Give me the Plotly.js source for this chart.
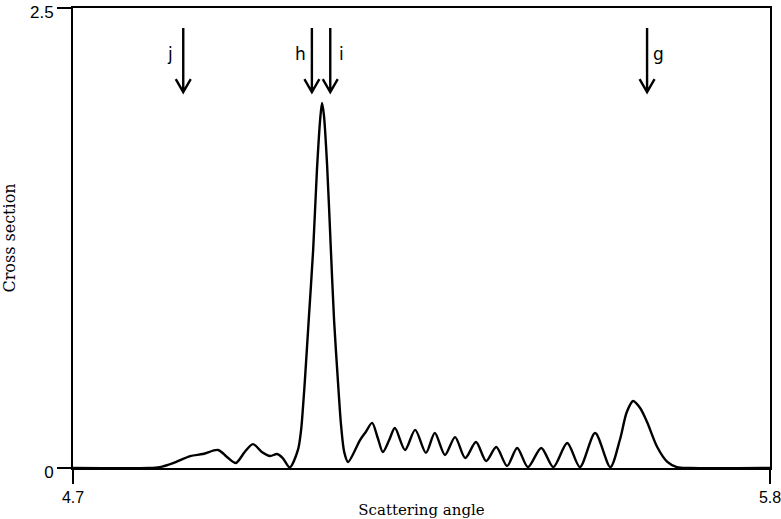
<!DOCTYPE html>
<html>
<head>
<meta charset="utf-8">
<script src="https://cdn.plot.ly/plotly-3.0.1.min.js"></script>
<style>
  html, body { margin: 0; padding: 0; background: #fff; }
  #chart { width: 781px; height: 519px; }
</style>
</head>
<body>
<div id="chart"></div>
<script>
// Scattering angle and differential cross section along the curve
const angle = [
  4.700, 4.820, 4.837, 4.858, 4.885, 4.905, 4.929, 4.943, 4.957, 4.971,
  4.984, 4.998, 5.011, 5.022, 5.031, 5.042, 5.055, 5.060, 5.063, 5.066,
  5.072, 5.079, 5.085, 5.090, 5.093, 5.096, 5.101, 5.107, 5.112, 5.118,
  5.123, 5.128, 5.134, 5.153, 5.162, 5.172, 5.181, 5.189, 5.199, 5.208,
  5.224, 5.240, 5.257, 5.271, 5.287, 5.303, 5.319, 5.336, 5.352, 5.368,
  5.385, 5.401, 5.418, 5.439, 5.458, 5.480, 5.500, 5.524, 5.548, 5.563,
  5.574, 5.584, 5.595, 5.606, 5.622, 5.638, 5.653, 5.674, 5.800
];
const crossSection = [
  0.000, 0.000, 0.005, 0.027, 0.065, 0.076, 0.098, 0.060, 0.027, 0.087,
  0.130, 0.087, 0.065, 0.076, 0.054, 0.003, 0.098, 0.207, 0.332, 0.478,
  0.804, 1.185, 1.620, 1.891, 1.984, 1.918, 1.647, 1.185, 0.804, 0.478,
  0.234, 0.087, 0.033, 0.152, 0.196, 0.245, 0.163, 0.087, 0.152, 0.217,
  0.098, 0.207, 0.082, 0.190, 0.071, 0.168, 0.054, 0.141, 0.038, 0.114,
  0.011, 0.109, 0.005, 0.109, 0.005, 0.136, 0.005, 0.190, 0.005, 0.152,
  0.304, 0.364, 0.326, 0.250, 0.114, 0.033, 0.005, 0.000, 0.000
];

// Marked angles with their labels
const markAngles = [4.874, 5.077, 5.106, 5.606];
const markLabels = ['j', 'h', 'i', 'g'];

const xTicks = [4.7, 5.8];
const yTicks = [0, 2.5];

// Arrow geometry (data units) and label offsets (px)
const arrowTop = 2.391, arrowTip = 2.043, wingHalf = 0.0118, wingRise = 0.07;
const labelShift = [-13, -11, 11, 11];

const shapes = [];
const annotations = [];
markAngles.forEach((a, k) => {
  shapes.push({
    type: 'path', xref: 'x', yref: 'y',
    path: `M${a},${arrowTop} L${a},${arrowTip} M${a - wingHalf},${arrowTip + wingRise} L${a},${arrowTip} L${a + wingHalf},${arrowTip + wingRise}`,
    line: { color: '#000', width: 2.4 }
  });
  annotations.push({
    x: a, y: 2.25, xref: 'x', yref: 'y', text: markLabels[k],
    showarrow: false, xshift: labelShift[k],
    font: { family: 'DejaVu Sans', size: 17, color: '#000' }
  });
});

const trace = {
  x: angle, y: crossSection, type: 'scatter', mode: 'lines',
  line: { color: '#000', width: 2.4, shape: 'spline', smoothing: 0.8 },
  hoverinfo: 'skip'
};

const layout = {
  width: 781, height: 519,
  margin: { l: 73, r: 11, t: 8, b: 51 },
  paper_bgcolor: '#fff', plot_bgcolor: '#fff',
  showlegend: false,
  xaxis: {
    range: [4.7, 5.8], tickvals: xTicks, ticktext: xTicks.map(v => v.toFixed(1)),
    ticks: 'outside', ticklen: 14, tickwidth: 2, tickcolor: '#000',
    showline: true, linewidth: 2, linecolor: '#000', mirror: true,
    showgrid: false, zeroline: false, ticklabeloverflow: 'allow',
    tickfont: { family: 'Liberation Sans', size: 16, color: '#000' },
    title: { text: 'Scattering angle', standoff: 0,
             font: { family: 'DejaVu Serif', size: 15, color: '#000' } }
  },
  yaxis: {
    range: [0, 2.5], tickvals: yTicks, ticktext: ['0', '2.5'],
    ticks: 'outside', ticklen: 14, tickwidth: 2, tickcolor: '#000',
    showline: true, linewidth: 2, linecolor: '#000', mirror: true,
    showgrid: false, zeroline: false, ticklabeloverflow: 'allow',
    ticklabelshift: 4,
    tickfont: { family: 'Liberation Sans', size: 17, color: '#000' },
    title: { text: 'Cross section', standoff: 12,
             font: { family: 'DejaVu Serif', size: 16, color: '#000' } }
  },
  shapes: shapes,
  annotations: annotations
};

Plotly.newPlot('chart', [trace], layout, { displayModeBar: false, staticPlot: true });
</script>
</body>
</html>
